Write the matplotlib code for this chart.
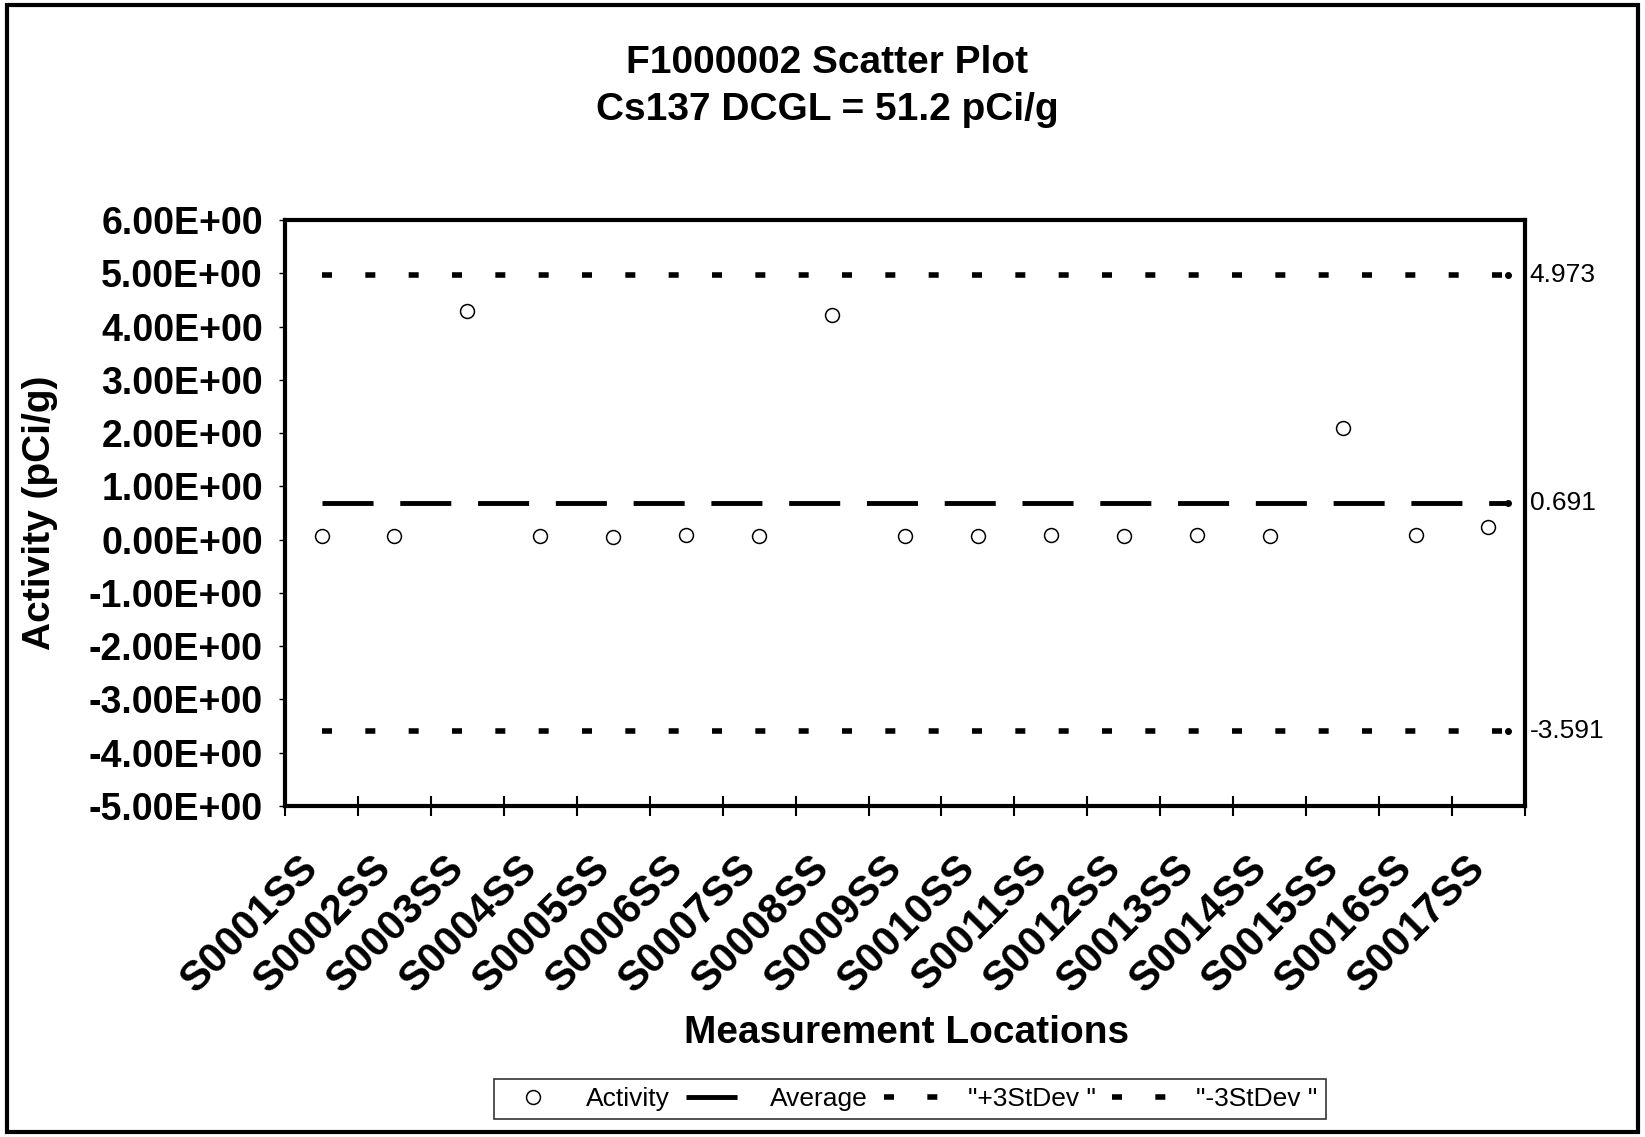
import numpy as np
import matplotlib.pyplot as plt
from matplotlib.ticker import FuncFormatter, FixedLocator
from matplotlib.patches import Rectangle

locations = ["S0001SS", "S0002SS", "S0003SS", "S0004SS", "S0005SS", "S0006SS",
             "S0007SS", "S0008SS", "S0009SS", "S0010SS", "S0011SS", "S0012SS",
             "S0013SS", "S0014SS", "S0015SS", "S0016SS", "S0017SS"]
activity = [0.06, 0.06, 4.30, 0.06, 0.05, 0.09, 0.07, 4.21, 0.06, 0.06,
            0.09, 0.06, 0.09, 0.07, 2.10, 0.09, 0.24]
average = 0.691
plus_3sd = 4.973
minus_3sd = -3.591
# stat lines run a bit short of the last category in the original
line_x = [0, 16.27]

plt.rcParams['font.family'] = ['Liberation Sans', 'DejaVu Sans']

fig = plt.figure(figsize=(16.45, 11.37), dpi=100)
ax = fig.add_axes([0.1733, 0.2911, 0.7537, 0.5154])

x = np.arange(len(locations))
ax.plot(x, activity, linestyle='none', marker='o', markersize=10,
        markerfacecolor='white', markeredgecolor='black', markeredgewidth=1.1,
        label='Activity', zorder=3)
ax.plot(line_x, [average] * 2, color='black', lw=3.5,
        linestyle=(0, (10.5, 5.5)), label='Average')
ax.plot(line_x, [plus_3sd] * 2, color='black', lw=4,
        linestyle=(0, (1.8, 6)), label='"+3StDev "')
ax.plot(line_x, [minus_3sd] * 2, color='black', lw=4,
        linestyle=(0, (1.8, 6)), label='"-3StDev "')

# end dots + value labels on the right
for v in [plus_3sd, average, minus_3sd]:
    ax.plot([line_x[1]], [v], marker='o', markersize=4, color='black')
    ax.text(1.004, v, f"{v:.3f}", transform=ax.get_yaxis_transform(),
            fontsize=19, va='center', ha='left')

ax.set_xlim(-0.5, len(locations) - 0.5)
ax.set_ylim(-5, 6)
ax.set_yticks(np.arange(-5, 7, 1))
ax.yaxis.set_major_formatter(FuncFormatter(lambda v, p: f"{v:.2E}"))
ax.tick_params(axis='y', labelsize=27, direction='out', length=4, width=1, pad=12)
for lab in ax.get_yticklabels():
    lab.set_fontweight('bold')

ax.xaxis.set_major_locator(FixedLocator(np.arange(-0.5, len(locations), 1)))
ax.xaxis.set_major_formatter(FuncFormatter(lambda v, p: ''))
ax.xaxis.set_minor_locator(FixedLocator(x - 0.12))
ax.set_xticklabels(locations, minor=True)
ax.tick_params(axis='x', which='major', direction='inout', length=14, width=1.5)
ax.tick_params(axis='x', which='minor', length=0, pad=40)
for lab in ax.get_xticklabels(minor=True):
    lab.set_rotation(45)
    lab.set_ha('right')
    lab.set_va('center')
    lab.set_rotation_mode('anchor')
    lab.set_fontsize(30)
    lab.set_fontweight('bold')

for s in ax.spines.values():
    s.set_linewidth(3)

ax.set_ylabel('Activity (pCi/g)', fontsize=28, fontweight='bold', labelpad=22)
fig.text(0.551, 0.0915, 'Measurement Locations', fontsize=28, fontweight='bold',
         ha='center', va='center')

fig.text(0.503, 0.945, 'F1000002 Scatter Plot', fontsize=28, fontweight='bold',
         ha='center', va='center')
fig.text(0.503, 0.903, 'Cs137 DCGL = 51.2 pCi/g', fontsize=28, fontweight='bold',
         ha='center', va='center')

leg = fig.legend(loc='center', bbox_to_anchor=(0.553, 0.0334), ncol=4,
                 fontsize=19, frameon=True, fancybox=False, edgecolor='black',
                 handlelength=2.4, columnspacing=0.6, handletextpad=0.8,
                 borderpad=0.3)
leg.get_frame().set_linewidth(1.2)

fig.patches.append(Rectangle((0.004, 0.004), 0.992, 0.992, transform=fig.transFigure,
                             fill=False, edgecolor='black', lw=3))

fig.savefig('out.png', dpi=100)
